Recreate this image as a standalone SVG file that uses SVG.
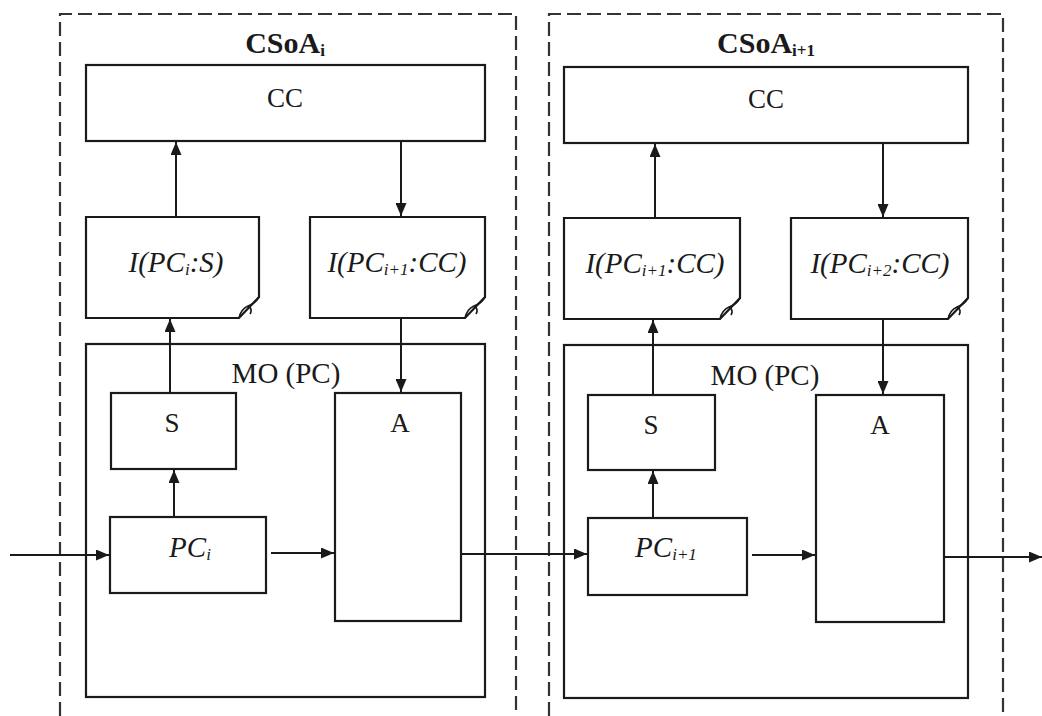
<svg xmlns="http://www.w3.org/2000/svg" width="1042" height="716" viewBox="0 0 1042 716">
<defs>
<marker id="ah" viewBox="0 0 13 11" refX="13" refY="5.5" markerWidth="13" markerHeight="11" markerUnits="userSpaceOnUse" orient="auto">
<path d="M0,0 L13,5.5 L0,11 Z" fill="#1a1a1a"/>
</marker>
<style>
.bx{fill:#fff;stroke:#1a1a1a;stroke-width:2.2}
.dash{fill:none;stroke:#333;stroke-width:2.2;stroke-dasharray:14 6}
.cn{fill:none;stroke:#1a1a1a;stroke-width:2}
.t{font-family:"Liberation Serif","Times New Roman",serif;font-size:27px;fill:#1a1a1a;text-anchor:middle}
.tm{font-size:29px}
.ti{font-family:"Liberation Serif","Times New Roman",serif;font-size:29px;font-style:italic;fill:#1a1a1a;text-anchor:middle}
.tb{font-family:"Liberation Serif","Times New Roman",serif;font-size:30px;font-weight:bold;fill:#1a1a1a;text-anchor:middle}
.sub{font-size:17px}
.fold{fill:none;stroke:#1a1a1a;stroke-width:1.6}
</style>
</defs>
<rect width="1042" height="716" fill="#fff"/>

<g id="csoa-i">
<path class="dash" d="M60 716 V14 H516 V716"/>
<text class="tb" x="285" y="53">CSoA<tspan class="sub" dy="3">i</tspan></text>
</g>
<g id="csoa-i1">
<path class="dash" d="M549 716 V14 H1003 V716"/>
<text class="tb" x="766" y="53">CSoA<tspan class="sub" dy="3">i+1</tspan></text>
</g>

<g id="mo-left"><rect class="bx" x="86" y="344" width="399" height="353"/><text class="t tm" x="286" y="383">MO (PC)</text></g>
<g id="mo-right"><rect class="bx" x="564" y="345" width="404" height="353"/><text class="t tm" x="765" y="385">MO (PC)</text></g>

<g id="cc-left"><rect class="bx" x="86" y="65" width="399" height="76"/><text class="t" x="285" y="107">CC</text></g>
<g id="cc-right"><rect class="bx" x="564" y="67" width="404" height="76"/><text class="t" x="766" y="108">CC</text></g>

<g id="doc-l1">
<path class="bx" d="M86 217 H259 V297 L239 318 H86 Z"/>
<path class="fold" d="M239 318 Q241 309 248 306 Q255 304 259 297 M248 306 Q253 309 250 314"/>
<text class="ti" x="176" y="272">I(PC<tspan class="sub" dy="3">i</tspan><tspan dy="-3">:S)</tspan></text>
</g>
<g id="doc-l2">
<path class="bx" d="M310 217 H485 V297 L465 318 H310 Z"/>
<path class="fold" d="M465 318 Q467 309 474 306 Q481 304 485 297 M474 306 Q479 309 476 314"/>
<text class="ti" x="397" y="272">I(PC<tspan class="sub" dy="3">i+1</tspan><tspan dy="-3">:CC)</tspan></text>
</g>
<g id="doc-r1">
<path class="bx" d="M564 218 H740 V298 L720 319 H564 Z"/>
<path class="fold" d="M720 319 Q722 310 729 307 Q736 305 740 298 M729 307 Q734 310 731 315"/>
<text class="ti" x="655" y="273">I(PC<tspan class="sub" dy="3">i+1</tspan><tspan dy="-3">:CC)</tspan></text>
</g>
<g id="doc-r2">
<path class="bx" d="M791 218 H968 V298 L948 319 H791 Z"/>
<path class="fold" d="M948 319 Q950 310 957 307 Q964 305 968 298 M957 307 Q962 310 959 315"/>
<text class="ti" x="880" y="273">I(PC<tspan class="sub" dy="3">i+2</tspan><tspan dy="-3">:CC)</tspan></text>
</g>

<g id="s-left"><rect class="bx" x="111" y="393" width="125" height="76"/><text class="t" x="172" y="432">S</text></g>
<g id="a-left"><rect class="bx" x="335" y="393" width="126" height="228"/><text class="t" x="400" y="432">A</text></g>
<g id="pc-left"><rect class="bx" x="110" y="517" width="156" height="76"/><text class="ti" x="190" y="557">PC<tspan class="sub" dy="3">i</tspan></text></g>

<g id="s-right"><rect class="bx" x="588" y="395" width="127" height="75"/><text class="t" x="651" y="434">S</text></g>
<g id="a-right"><rect class="bx" x="816" y="395" width="128" height="227"/><text class="t" x="880" y="434">A</text></g>
<g id="pc-right"><rect class="bx" x="588" y="518" width="159" height="77"/><text class="ti" x="666" y="557">PC<tspan class="sub" dy="3">i+1</tspan></text></g>

<g id="connectors">
<line class="cn" x1="176" y1="217" x2="176" y2="142" marker-end="url(#ah)"/>
<line class="cn" x1="401" y1="141" x2="401" y2="216" marker-end="url(#ah)"/>
<line class="cn" x1="170" y1="393" x2="170" y2="319" marker-end="url(#ah)"/>
<line class="cn" x1="401" y1="318" x2="401" y2="392" marker-end="url(#ah)"/>
<line class="cn" x1="174" y1="517" x2="174" y2="470" marker-end="url(#ah)"/>
<line class="cn" x1="10" y1="555" x2="109" y2="555" marker-end="url(#ah)"/>
<line class="cn" x1="271" y1="553" x2="334" y2="553" marker-end="url(#ah)"/>
<line class="cn" x1="461" y1="554" x2="587" y2="554" marker-end="url(#ah)"/>

<line class="cn" x1="655" y1="218" x2="655" y2="144" marker-end="url(#ah)"/>
<line class="cn" x1="883" y1="143" x2="883" y2="217" marker-end="url(#ah)"/>
<line class="cn" x1="653" y1="395" x2="653" y2="320" marker-end="url(#ah)"/>
<line class="cn" x1="883" y1="319" x2="883" y2="394" marker-end="url(#ah)"/>
<line class="cn" x1="653" y1="518" x2="653" y2="471" marker-end="url(#ah)"/>
<line class="cn" x1="752" y1="555" x2="815" y2="555" marker-end="url(#ah)"/>
<line class="cn" x1="944" y1="557" x2="1042" y2="557" marker-end="url(#ah)"/>
</g>
</svg>
